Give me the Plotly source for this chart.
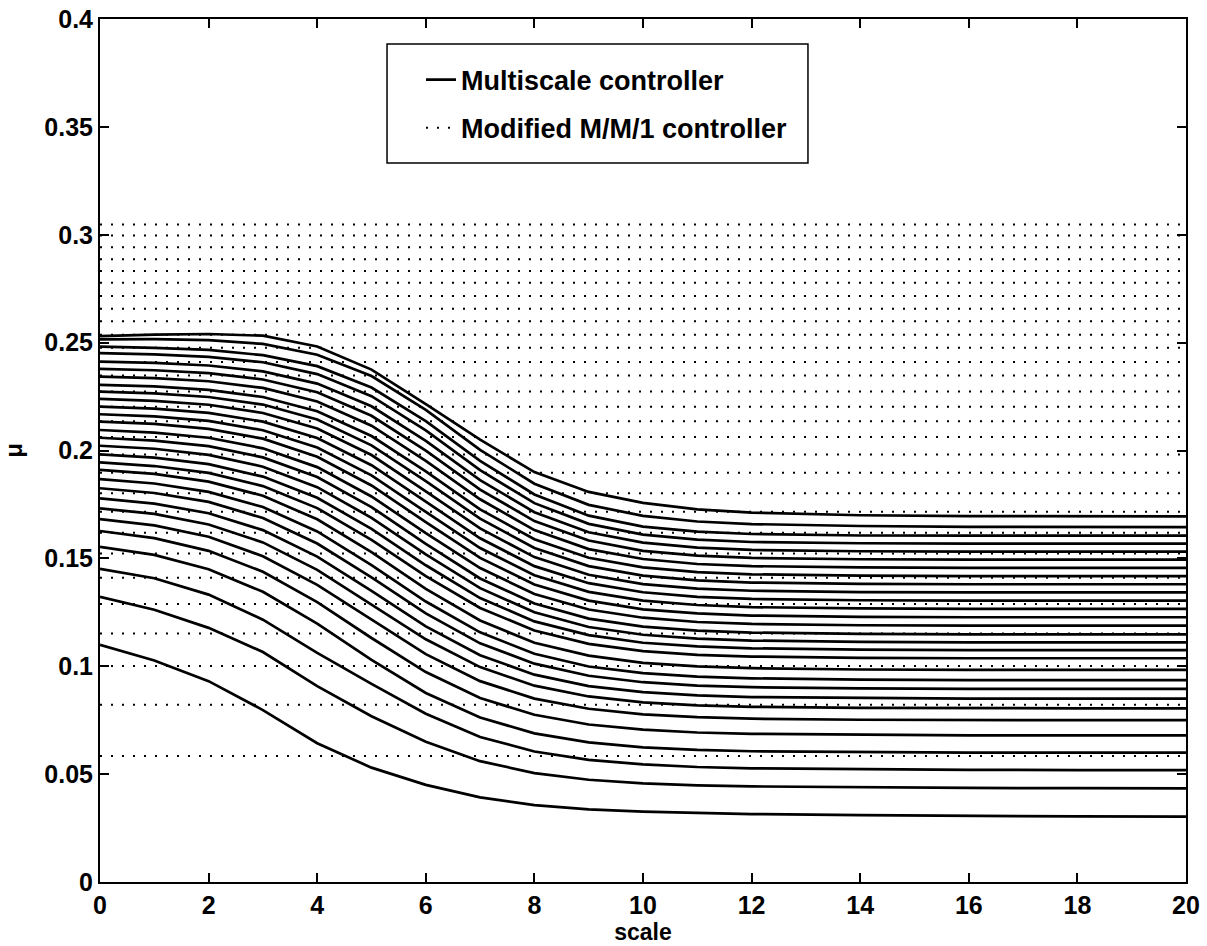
import plotly.graph_objects as go

# scale axis sample points
scale = [0, 1, 2, 3, 4, 5, 6, 7, 8, 9, 10, 11, 12, 14, 16, 18, 20]

# Multiscale controller: mu versus scale, one row per curve (bottom to top)
mu_multiscale = [
    [0.1099, 0.1027, 0.0931, 0.0797, 0.0643, 0.0530, 0.0450, 0.0392, 0.0356, 0.0337, 0.0326, 0.0320, 0.0315, 0.0310, 0.0306, 0.0304, 0.0303],
    [0.1322, 0.1262, 0.1178, 0.1066, 0.0908, 0.0768, 0.0650, 0.0560, 0.0505, 0.0474, 0.0457, 0.0448, 0.0443, 0.0438, 0.0436, 0.0435, 0.0434],
    [0.1451, 0.1408, 0.1332, 0.1216, 0.1062, 0.0918, 0.0780, 0.0672, 0.0605, 0.0566, 0.0545, 0.0533, 0.0527, 0.0522, 0.0520, 0.0519, 0.0519],
    [0.1553, 0.1516, 0.1450, 0.1345, 0.1198, 0.1030, 0.0876, 0.0762, 0.0689, 0.0647, 0.0624, 0.0612, 0.0606, 0.0602, 0.0600, 0.0600, 0.0600],
    [0.1627, 0.1594, 0.1535, 0.1438, 0.1297, 0.1131, 0.0973, 0.0853, 0.0775, 0.0730, 0.0706, 0.0693, 0.0687, 0.0682, 0.0680, 0.0680, 0.0680],
    [0.1682, 0.1653, 0.1600, 0.1510, 0.1377, 0.1215, 0.1056, 0.0931, 0.0850, 0.0803, 0.0777, 0.0764, 0.0757, 0.0752, 0.0750, 0.0750, 0.0750],
    [0.1732, 0.1706, 0.1657, 0.1574, 0.1447, 0.1286, 0.1125, 0.0996, 0.0910, 0.0860, 0.0833, 0.0819, 0.0812, 0.0807, 0.0805, 0.0805, 0.0805],
    [0.1778, 0.1754, 0.1709, 0.1631, 0.1508, 0.1349, 0.1185, 0.1051, 0.0961, 0.0908, 0.0880, 0.0865, 0.0857, 0.0852, 0.0850, 0.0850, 0.0850],
    [0.1825, 0.1803, 0.1762, 0.1687, 0.1569, 0.1412, 0.1245, 0.1106, 0.1012, 0.0956, 0.0926, 0.0910, 0.0903, 0.0897, 0.0895, 0.0895, 0.0895],
    [0.1867, 0.1847, 0.1808, 0.1738, 0.1625, 0.1469, 0.1300, 0.1157, 0.1058, 0.0999, 0.0968, 0.0952, 0.0944, 0.0938, 0.0936, 0.0936, 0.0936],
    [0.1910, 0.1892, 0.1856, 0.1790, 0.1681, 0.1529, 0.1359, 0.1212, 0.1109, 0.1049, 0.1016, 0.0999, 0.0991, 0.0985, 0.0983, 0.0983, 0.0983],
    [0.1945, 0.1928, 0.1896, 0.1835, 0.1733, 0.1586, 0.1418, 0.1270, 0.1166, 0.1104, 0.1070, 0.1053, 0.1045, 0.1039, 0.1037, 0.1037, 0.1037],
    [0.1982, 0.1967, 0.1937, 0.1879, 0.1781, 0.1637, 0.1468, 0.1316, 0.1208, 0.1144, 0.1109, 0.1092, 0.1083, 0.1077, 0.1075, 0.1075, 0.1075],
    [0.2022, 0.2008, 0.1980, 0.1925, 0.1830, 0.1688, 0.1518, 0.1362, 0.1250, 0.1182, 0.1146, 0.1128, 0.1119, 0.1113, 0.1111, 0.1111, 0.1111],
    [0.2059, 0.2046, 0.2020, 0.1968, 0.1877, 0.1738, 0.1567, 0.1407, 0.1291, 0.1221, 0.1184, 0.1165, 0.1156, 0.1150, 0.1148, 0.1148, 0.1148],
    [0.2095, 0.2083, 0.2059, 0.2010, 0.1923, 0.1787, 0.1617, 0.1455, 0.1335, 0.1263, 0.1225, 0.1205, 0.1196, 0.1190, 0.1188, 0.1188, 0.1188],
    [0.2134, 0.2123, 0.2100, 0.2055, 0.1971, 0.1838, 0.1668, 0.1502, 0.1379, 0.1304, 0.1264, 0.1245, 0.1235, 0.1229, 0.1227, 0.1227, 0.1227],
    [0.2168, 0.2158, 0.2137, 0.2094, 0.2014, 0.1885, 0.1715, 0.1548, 0.1422, 0.1345, 0.1304, 0.1284, 0.1274, 0.1268, 0.1266, 0.1266, 0.1266],
    [0.2203, 0.2194, 0.2174, 0.2134, 0.2058, 0.1932, 0.1763, 0.1593, 0.1464, 0.1385, 0.1343, 0.1322, 0.1312, 0.1306, 0.1304, 0.1304, 0.1304],
    [0.2239, 0.2230, 0.2212, 0.2174, 0.2102, 0.1979, 0.1811, 0.1639, 0.1506, 0.1424, 0.1381, 0.1360, 0.1350, 0.1344, 0.1342, 0.1342, 0.1342],
    [0.2273, 0.2265, 0.2248, 0.2213, 0.2144, 0.2024, 0.1858, 0.1684, 0.1548, 0.1464, 0.1420, 0.1398, 0.1388, 0.1382, 0.1380, 0.1380, 0.1380],
    [0.2304, 0.2297, 0.2281, 0.2248, 0.2182, 0.2067, 0.1903, 0.1727, 0.1589, 0.1503, 0.1458, 0.1436, 0.1426, 0.1420, 0.1418, 0.1418, 0.1418],
    [0.2342, 0.2335, 0.2321, 0.2290, 0.2227, 0.2115, 0.1952, 0.1774, 0.1631, 0.1543, 0.1497, 0.1474, 0.1464, 0.1458, 0.1456, 0.1456, 0.1456],
    [0.2378, 0.2372, 0.2359, 0.2329, 0.2270, 0.2161, 0.1999, 0.1819, 0.1673, 0.1583, 0.1535, 0.1513, 0.1502, 0.1496, 0.1494, 0.1494, 0.1494],
    [0.2412, 0.2406, 0.2394, 0.2367, 0.2310, 0.2205, 0.2045, 0.1863, 0.1714, 0.1621, 0.1573, 0.1550, 0.1539, 0.1533, 0.1531, 0.1531, 0.1531],
    [0.2451, 0.2446, 0.2434, 0.2409, 0.2354, 0.2252, 0.2093, 0.1909, 0.1756, 0.1660, 0.1610, 0.1587, 0.1576, 0.1570, 0.1568, 0.1568, 0.1568],
    [0.2481, 0.2476, 0.2466, 0.2442, 0.2391, 0.2292, 0.2136, 0.1952, 0.1796, 0.1698, 0.1647, 0.1624, 0.1613, 0.1606, 0.1605, 0.1605, 0.1605],
    [0.2515, 0.2516, 0.2512, 0.2494, 0.2444, 0.2345, 0.2188, 0.2003, 0.1846, 0.1748, 0.1697, 0.1671, 0.1659, 0.1650, 0.1646, 0.1645, 0.1645],
    [0.2530, 0.2537, 0.2540, 0.2532, 0.2482, 0.2375, 0.2215, 0.2050, 0.1900, 0.1808, 0.1757, 0.1727, 0.1712, 0.1700, 0.1696, 0.1695, 0.1695],
]

# Modified M/M/1 controller: constant mu levels (bottom to top)
mu_mm1 = [0.0584, 0.0822, 0.1001, 0.1152, 0.1288, 0.1410, 0.1523, 0.1619, 0.1716, 0.1802,
          0.1897, 0.1981, 0.2062, 0.2136, 0.2203, 0.2274, 0.2348, 0.2410, 0.2476, 0.2537,
          0.2599, 0.2657, 0.2716, 0.2778, 0.2832, 0.2886, 0.2942, 0.2997, 0.3048]
mm1_scale = [0, 20]

y_ticks = [0, 0.05, 0.1, 0.15, 0.2, 0.25, 0.3, 0.35, 0.4]
y_ticktext = ["0", "0.05", "0.1", "0.15", "0.2", "0.25", "0.3", "0.35", "0.4"]
x_ticks = [0, 2, 4, 6, 8, 10, 12, 14, 16, 18, 20]

fig = go.Figure()
for k, row in enumerate(mu_multiscale):
    fig.add_trace(go.Scatter(x=scale, y=row, mode="lines",
                             line=dict(color="black", width=2.7),
                             name="Multiscale controller", legendgroup="a",
                             showlegend=(k == 0), hoverinfo="skip"))
for i, v in enumerate(mu_mm1):
    fig.add_trace(go.Scatter(x=mm1_scale, y=[v, v], mode="lines",
                             line=dict(color="black", width=2, dash="2px,9px"),
                             name="Modified M/M/1 controller", legendgroup="b",
                             showlegend=(i == 0), hoverinfo="skip"))

font = "Liberation Sans, Arial, sans-serif"
axis_common = dict(showline=True, linecolor="black", linewidth=2, mirror="allticks",
                   ticks="inside", ticklen=9, tickwidth=2, tickcolor="black",
                   showgrid=False, zeroline=False, automargin=False,
                   tickfont=dict(family=font, size=25, color="black", weight="bold"))
fig.update_layout(
    width=1207, height=946,
    margin=dict(l=100, r=21, t=19, b=64),
    paper_bgcolor="white", plot_bgcolor="white",
    showlegend=True,
    legend=dict(x=0.2956, y=0.9577, xanchor="left", yanchor="top",
                bgcolor="rgba(0,0,0,0)", borderwidth=0,
                font=dict(family=font, size=27, color="black", weight="bold"),
                tracegroupgap=10),
    xaxis=dict(range=[0, 20], tickvals=x_ticks,
               title=dict(text="scale", standoff=0,
                          font=dict(family=font, size=23, color="black", weight="bold")),
               **axis_common),
    yaxis=dict(range=[0, 0.4], tickvals=y_ticks, ticktext=y_ticktext,
               title=dict(text="μ", standoff=23,
                          font=dict(family=font, size=24, color="black", weight="bold")),
               **axis_common),
    shapes=[dict(type="rect", xref="paper", yref="paper",
                 x0=0.2643, x1=0.6519, y0=0.8331, y1=0.971,
                 line=dict(color="black", width=1.5), fillcolor="white", layer="above")],
)
fig.write_html("out.html", config={"displayModeBar": False},
               post_script="document.body.style.margin='0';document.body.style.overflow='hidden';")
